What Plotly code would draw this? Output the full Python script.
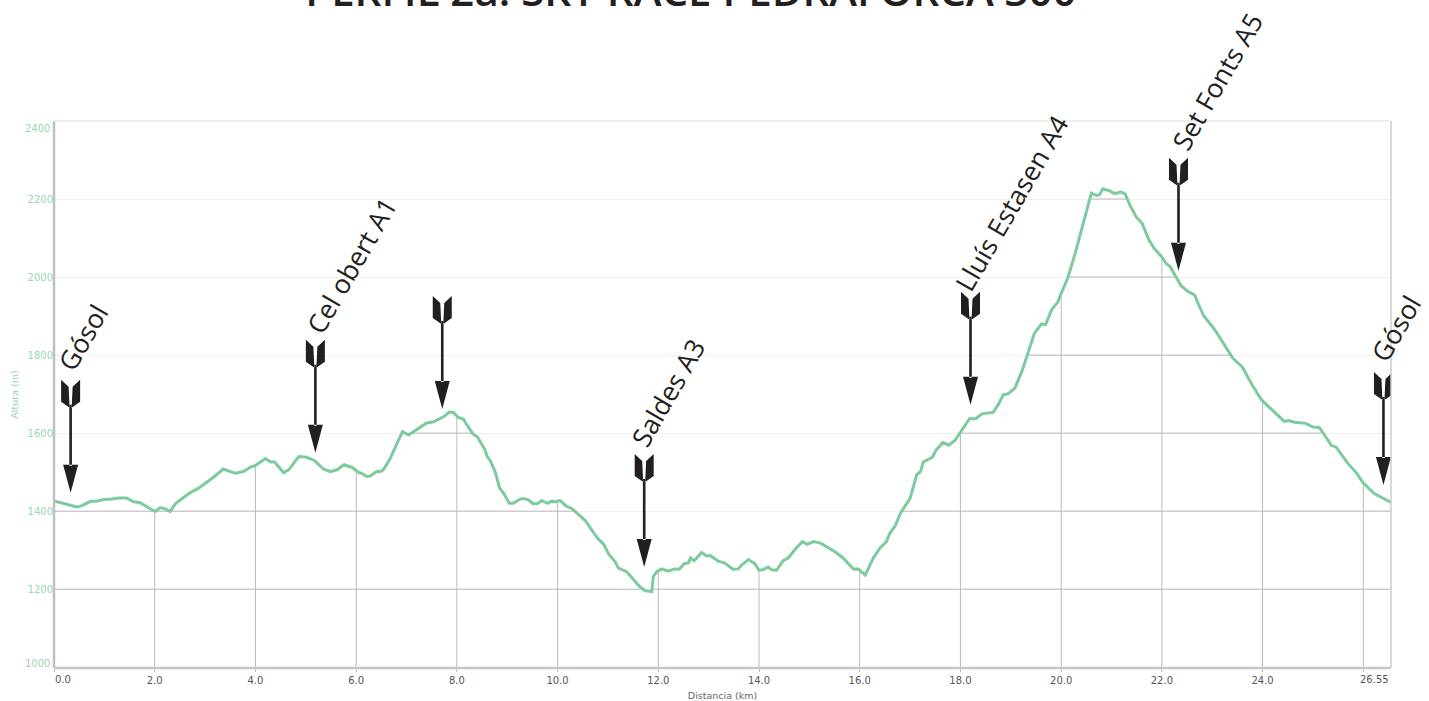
import numpy as np
import plotly.graph_objects as go

distance_km = [0.0,0.19,0.45,0.56,0.72,0.86,0.99,1.15,1.29,1.44,1.58,1.70,1.88,2.01,2.11,2.21,2.31,2.41,2.61,2.71,2.87,3.04,3.17,3.36,3.60,3.77,3.90,4.00,4.20,4.30,4.38,4.56,4.66,4.86,5.02,5.17,5.35,5.49,5.62,5.76,
 5.92,6.05,6.11,6.21,6.28,6.40,6.51,6.56,6.68,6.82,6.92,7.04,7.15,7.27,7.40,7.54,7.67,7.75,7.85,7.93,8.03,8.13,8.20,8.32,8.41,8.50,8.56,8.60,8.66,8.76,8.85,8.93,9.04,9.12,9.26,9.34,9.42,9.51,9.59,9.69,9.80,9.87,9.95,10.05,10.18,10.28,10.41,10.55,10.66,
 10.78,10.92,11.01,11.14,11.21,11.37,11.50,11.62,11.74,11.87,11.90,11.97,12.07,12.19,12.33,12.42,12.51,12.60,12.64,12.71,12.86,12.96,13.03,13.19,13.32,13.48,13.59,13.65,13.79,13.92,14.00,14.08,14.18,14.25,14.35,14.48,14.58,14.71,14.86,14.96,15.08,15.22,15.37,15.53,15.67,15.88,15.97,16.11,
 16.27,16.40,16.53,16.60,16.70,16.81,17.00,17.06,17.13,17.21,17.26,17.44,17.52,17.65,17.77,17.89,17.99,18.18,18.30,18.44,18.65,18.75,18.85,18.95,19.08,19.23,19.34,19.47,19.61,19.69,19.81,19.94,
 19.97,20.13,20.27,20.37,20.43,20.53,20.60,20.70,20.76,20.83,20.96,21.06,21.19,21.27,21.37,21.49,21.61,21.74,21.85,21.99,22.09,22.17,22.38,22.52,22.65,22.73,22.83,23.05,23.41,23.60,23.79,23.98,24.33,
 24.43,24.52,24.63,24.86,24.99,25.13,25.23,25.37,25.46,25.69,25.87,25.99,26.21,26.35,26.54]
altitude_m = [1426,1419,1411,1414,1425,1426,1430,1431,1434,1434,1424,1422,1408,1399,1409,1406,1399,1419,1439,1448,1459,1474,1487,1508,1497,1502,1513,1517,1535,1526,1526,1499,1506,1540,1538,1530,1508,1501,1506,1519,
 1512,1499,1497,1489,1490,1501,1503,1510,1536,1576,1604,1595,1604,1614,1626,1629,1639,1643,1654,1653,1640,1636,1621,1598,1590,1570,1557,1540,1530,1501,1459,1446,1420,1420,1431,1432,1429,1419,1419,1427,1420,1425,1424,1427,1412,1407,1393,1376,1355,
 1333,1314,1291,1271,1254,1245,1226,1208,1196,1194,1232,1245,1252,1246,1252,1251,1265,1268,1280,1273,1294,1285,1286,1272,1267,1251,1252,1261,1276,1265,1249,1250,1257,1250,1249,1273,1280,1301,1322,1315,1322,1318,1307,1294,1280,1251,1252,1236,
 1280,1305,1322,1344,1361,1395,1433,1463,1493,1502,1526,1538,1557,1576,1569,1581,1600,1637,1637,1650,1653,1673,1698,1701,1715,1762,1805,1856,1880,1878,1916,1937,
 1949,1997,2057,2104,2130,2181,2215,2209,2211,2226,2221,2214,2218,2213,2183,2154,2137,2096,2073,2053,2034,2026,1978,1963,1954,1929,1901,1865,1792,1769,1724,1685,1641,
 1630,1632,1628,1625,1616,1614,1596,1568,1564,1523,1497,1474,1446,1437,1423]

x_ticks = [0,2,4,6,8,10,12,14,16,18,20,22,24,26]
x_tick_labels = ["","2.0","4.0","6.0","8.0","10.0","12.0","14.0","16.0","18.0","20.0","22.0","24.0",""]
y_ticks = [1200,1400,1600,1800,2000,2200]
y_tick_labels = ["1200","1400","1600","1800","2000","2200"]

arrow_tip_km = [0.33,5.19,7.71,11.72,18.20,22.33,26.40]
arrow_tip_m = [1447,1550,1662,1257,1673,2016,1467]

place_names = ["Gósol","Cel obert A1","Saldes A3","Lluís Estasen A4","Set Fonts A5","Gósol"]
place_km = [0.57,5.90,12.19,19.02,23.09,26.64]
place_m = [1844,2029,1703,2190,2501,1867]

title_text = "PERFIL 2a. SKY RACE PEDRAFORCA 300"
X_MAX, Y_MIN, Y_MAX = 26.55, 998, 2400
GREEN = "#7ccb9f"
TICK_GREEN = "#93d8b0"
INK = "#231f20"

km = np.array(distance_km, float)
alt = np.array(altitude_m, float)

# dark grid only below the profile
fine_x = np.linspace(0, km[-1], 5000)
fine_y = np.interp(fine_x, km, alt)
gx, gy = [], []
for level in y_ticks:
    mask = fine_y >= level
    edges = np.flatnonzero(np.diff(np.r_[0, mask.astype(int), 0]))
    for a, b in zip(edges[::2], edges[1::2]):
        gx += [fine_x[a], fine_x[b - 1], None]
        gy += [level, level, None]
for t in x_ticks[1:]:
    gx += [t, t, None]
    gy += [Y_MIN, float(np.interp(t, km, alt)), None]

fig = go.Figure()
fig.add_trace(go.Scatter(x=gx, y=gy, mode="lines", line=dict(color="#b9b9b9", width=1), hoverinfo="skip", showlegend=False))
fig.add_trace(go.Scatter(x=km, y=alt, mode="lines", line=dict(color=GREEN, width=3), showlegend=False, name="Altura"))

arrow_path = ("M -7.5 28 L 7.5 28 L 0 0 Z "
              "M -1.3 27 L 1.3 27 L 1.3 88 L -1.3 88 Z "
              "M -9.5 113 L -2 106 L -1 85 L -9.5 91 Z "
              "M 9.5 113 L 2 106 L 1 85 L 9.5 91 Z")
shapes = []
for ax, ay in zip(arrow_tip_km, arrow_tip_m):
    shapes.append(dict(type="path", xsizemode="pixel", ysizemode="pixel", xanchor=ax, yanchor=ay,
                       xref="x", yref="y", path=arrow_path, fillcolor=INK, line=dict(width=0), layer="above"))
# frame
shapes += [
    dict(type="line", xref="paper", yref="paper", x0=0, x1=0, y0=0, y1=1, line=dict(color="#c0c0c0", width=2.5)),
    dict(type="line", xref="paper", yref="paper", x0=0, x1=1, y0=0, y1=0, line=dict(color="#c6c6c6", width=2.5)),
    dict(type="line", xref="paper", yref="paper", x0=1, x1=1, y0=0, y1=1, line=dict(color="#cccccc", width=1.5)),
    dict(type="line", xref="paper", yref="paper", x0=0, x1=1, y0=1, y1=1, line=dict(color="#e8e8e8", width=1.5)),
]

annotations = []
for name, ax, ay in zip(place_names, place_km, place_m):
    annotations.append(dict(text=name, x=ax / X_MAX, y=(ay - Y_MIN) / (Y_MAX - Y_MIN), xref="paper", yref="paper",
                            xanchor="center", yanchor="middle", showarrow=False, textangle=-60,
                            font=dict(family="Open Sans", size=26.5, color=INK)))
annotations += [
    dict(text="2400", x=0, y=2400, xref="x", yref="y", xanchor="right", xshift=-2, yshift=-7, showarrow=False,
         font=dict(family="DejaVu Sans", size=10, color=TICK_GREEN)),
    dict(text="1000", x=0, y=1000, xref="x", yref="y", xanchor="right", xshift=-2, yshift=4, showarrow=False,
         font=dict(family="DejaVu Sans", size=10, color=TICK_GREEN)),
    dict(text="0.0", x=0, y=Y_MIN, xref="x", yref="y", xshift=9, yshift=-11, showarrow=False,
         font=dict(family="DejaVu Sans", size=10, color="#555555")),
    dict(text="26.55", x=X_MAX, y=Y_MIN, xref="x", yref="y", xanchor="right", yshift=-11, showarrow=False,
         font=dict(family="DejaVu Sans", size=10, color="#555555")),
]

fig.update_layout(
    width=1429, height=701, margin=dict(l=54, r=38, t=121, b=33, autoexpand=False),
    plot_bgcolor="white", paper_bgcolor="white", showlegend=False,
    shapes=shapes, annotations=annotations,
    title=dict(text=title_text, x=(691 - 0) / 1429, xanchor="center", y=1, yref="container", yanchor="bottom",
               pad=dict(b=-6), font=dict(family="Open Sans", size=42, color=INK, weight=600)),
    xaxis=dict(range=[0, X_MAX], tickmode="array", tickvals=x_ticks, ticktext=x_tick_labels, showgrid=False,
               zeroline=False, showline=False, ticks="outside", ticklen=3, tickcolor="#bbbbbb",
               tickfont=dict(family="DejaVu Sans", size=10, color="#555555"),
               title=dict(text="Distancia (km)", standoff=8, font=dict(family="DejaVu Sans", size=9.5, color="#666666"))),
    yaxis=dict(range=[Y_MIN, Y_MAX], tickmode="array", tickvals=y_ticks, ticktext=y_tick_labels,
               showgrid=True, gridcolor="#f0f0f0", gridwidth=1, zeroline=False, showline=False, ticks="",
               tickfont=dict(family="DejaVu Sans", size=10, color=TICK_GREEN),
               title=dict(text="Altura (m)", standoff=7, font=dict(family="DejaVu Sans", size=9.5, color=TICK_GREEN))),
)
fig.write_html("out.html", config=dict(displayModeBar=False), post_script="document.body.style.margin='0';")
